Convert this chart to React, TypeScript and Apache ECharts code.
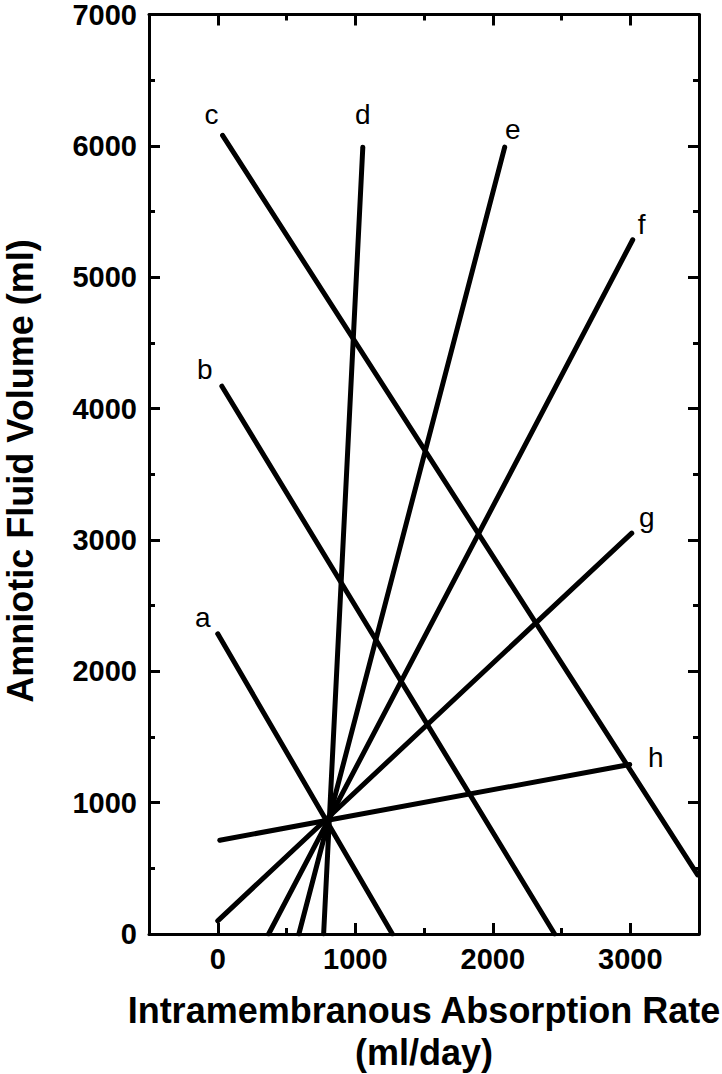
import React, { useEffect, useRef } from "react";
import * as echarts from "echarts";

// ---- data ----
const lineNames = ["a", "b", "c", "d", "e", "f", "g", "h"];
// start point (first end) and end point of each straight line
const startX = [0, 30, 35, 770, 590, 370, 0, 15];
const startY = [2285, 4170, 6080, 0, 0, 0, 100, 714];
const endX = [1270, 2450, 3490, 1055, 2087, 3018, 3011, 2996];
const endY = [0, 0, 450, 5990, 5990, 5285, 3052, 1291];
// which end carries the letter label: 0 = start, 1 = end
const labelEnd = [0, 0, 0, 1, 1, 1, 1, 1];

const xMin = -500;
const xMax = 3500;
const yMin = 0;
const yMax = 7000;
const yTicks = ["0", "1000", "2000", "3000", "4000", "5000", "6000", "7000"];
const xTicks = ["0", "1000", "2000", "3000"];

const xTitle1 = "Intramembranous Absorption Rate";
const xTitle2 = "(ml/day)";
const yTitle = "Amniotic Fluid Volume (ml)";

// ---- styling ----
const labelOffsets: number[][] = [
  [-15, -16],
  [-17, -17],
  [-11, -21],
  [0, -33],
  [8, -18],
  [9, -15],
  [15, -16],
  [26, -7],
];
const FONT = "'Liberation Sans', Arial, Helvetica, sans-serif";

export default function App() {
  const ref = useRef<HTMLDivElement>(null);

  useEffect(() => {
    document.body.style.margin = "0";
    if (!ref.current) return;
    const chart = echarts.init(ref.current, undefined, { renderer: "svg" });

    const axisLine = { show: true, onZero: false, lineStyle: { color: "#000", width: 3 } };
    const tick = { show: true, inside: true, length: 11, lineStyle: { color: "#000", width: 3 } };
    const minor = { show: true, splitNumber: 2, length: 6, lineStyle: { color: "#000", width: 3 } };

    const series = lineNames.map((name, i) => {
      const pts = [
        [startX[i], startY[i]],
        [endX[i], endY[i]],
      ];
      const data = pts.map((p, k) =>
        k === labelEnd[i]
          ? {
              value: p,
              label: {
                show: true,
                formatter: name,
                position: "inside",
                align: "center",
                verticalAlign: "middle",
                offset: labelOffsets[i],
                color: "#000",
                fontFamily: FONT,
                fontSize: 28,
              },
            }
          : { value: p }
      );
      return {
        type: "line",
        name,
        data,
        showSymbol: true,
        symbol: "circle",
        symbolSize: 4,
        itemStyle: { color: "#000" },
        lineStyle: { color: "#000", width: 5, cap: "round" },
        silent: true,
        z: 3,
      };
    });

    const tickLabel = {
      color: "#000",
      fontFamily: FONT,
      fontWeight: "bold",
      fontSize: 29,
    };

    chart.setOption({
      animation: false,
      backgroundColor: "#fff",
      grid: { left: 149, right: 23, top: 12, bottom: 140, containLabel: false },
      xAxis: [
        {
          type: "value",
          position: "bottom",
          min: xMin,
          max: xMax,
          splitNumber: 4,
          axisLine,
          axisTick: tick,
          minorTick: minor,
          splitLine: { show: false },
          minorSplitLine: { show: false },
          axisLabel: {
            show: true,
            margin: 10,
            ...tickLabel,
            showMinLabel: false,
            showMaxLabel: false,
            formatter: (v: number) => {
              const s = String(v);
              return xTicks.indexOf(s) >= 0 ? s : "";
            },
          },
        },
        {
          type: "value",
          position: "top",
          min: xMin,
          max: xMax,
          splitNumber: 4,
          axisLine,
          axisTick: tick,
          minorTick: minor,
          splitLine: { show: false },
          axisLabel: { show: false },
        },
      ],
      yAxis: [
        {
          type: "value",
          position: "left",
          min: yMin,
          max: yMax,
          interval: 1000,
          axisLine,
          axisTick: tick,
          minorTick: minor,
          splitLine: { show: false },
          axisLabel: {
            show: true,
            margin: 12,
            ...tickLabel,
            formatter: (v: number) => {
              const s = String(v);
              return yTicks.indexOf(s) >= 0 ? s : "";
            },
          },
        },
        {
          type: "value",
          position: "right",
          min: yMin,
          max: yMax,
          interval: 1000,
          axisLine,
          axisTick: tick,
          minorTick: minor,
          splitLine: { show: false },
          axisLabel: { show: false },
        },
      ],
      graphic: [
        {
          type: "text",
          x: 424,
          y: 1010,
          style: {
            text: xTitle1,
            font: `bold 36px ${FONT}`,
            fill: "#000",
            align: "center",
            verticalAlign: "middle",
          },
        },
        {
          type: "text",
          x: 424,
          y: 1052,
          style: {
            text: xTitle2,
            font: `bold 36px ${FONT}`,
            fill: "#000",
            align: "center",
            verticalAlign: "middle",
          },
        },
        {
          type: "text",
          x: 20,
          y: 471,
          rotation: Math.PI / 2,
          style: {
            text: yTitle,
            font: `bold 36px ${FONT}`,
            fill: "#000",
            align: "center",
            verticalAlign: "middle",
          },
        },
      ],
      series,
    });

    return () => chart.dispose();
  }, []);

  return <div ref={ref} style={{ width: 722, height: 1074 }} />;
}
